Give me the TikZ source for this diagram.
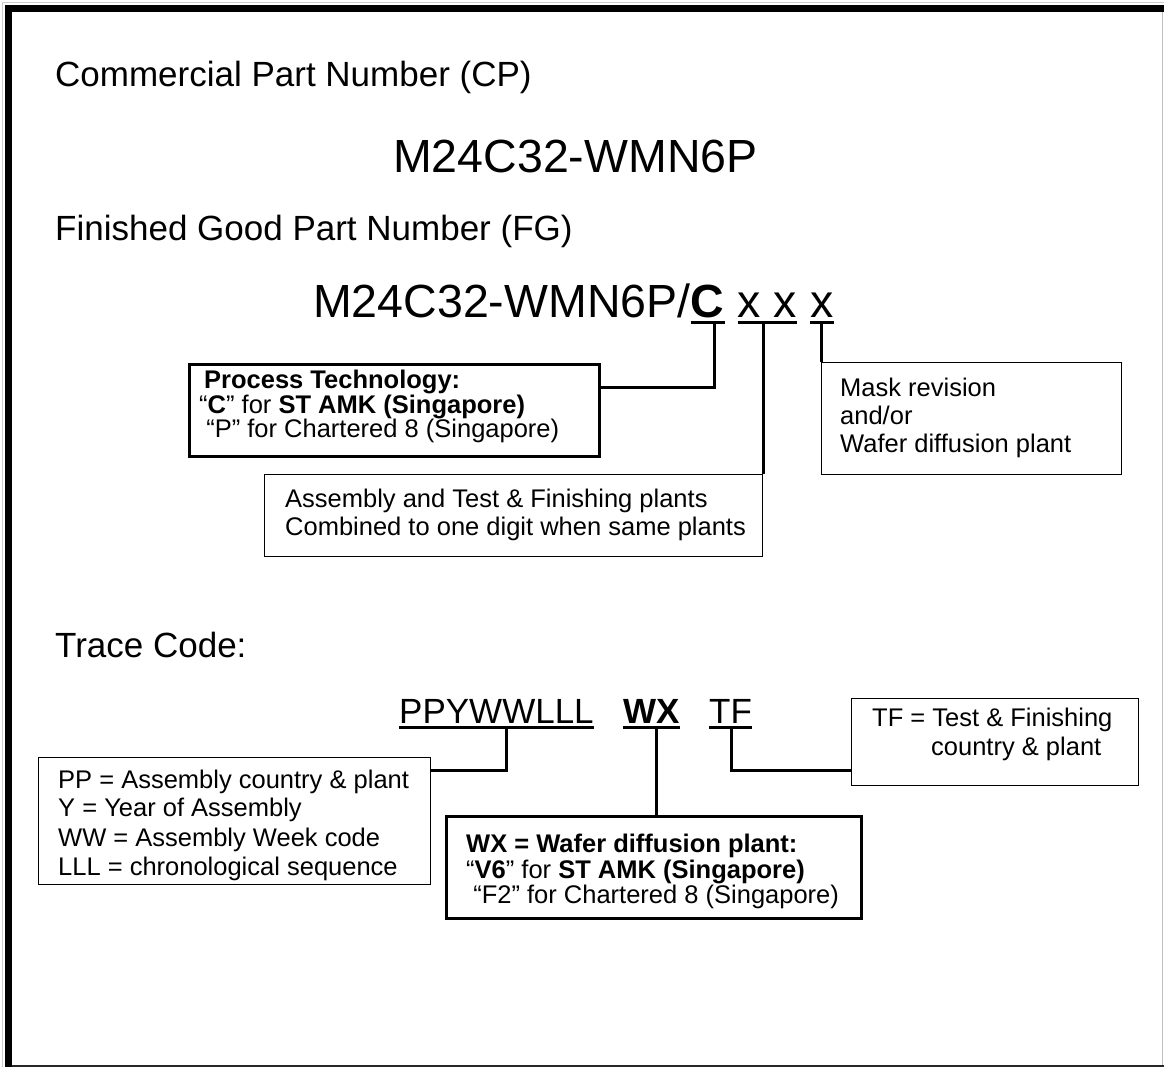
\documentclass[tikz,border=0pt]{standalone}
\usepackage{fontspec}
\setmainfont{Liberation Sans}
\usetikzlibrary{calc}
\newcommand{\fhead}{\fontsize{35}{42}\selectfont}
\newcommand{\fbigpn}{\fontsize{46.5}{55}\selectfont}
\newcommand{\fbody}{\fontsize{25.5}{28}\selectfont}
\begin{document}
\begin{tikzpicture}[x=1pt,y=-1pt,
  txt/.style={inner sep=0pt, anchor=base west, font=\fbody},
  thinbox/.style={draw, line width=1.4pt, anchor=north west, inner sep=0pt},
  thickbox/.style={draw, line width=3pt, anchor=north west, inner sep=0pt},
  conn/.style={line width=3pt},
  uline/.style={line width=3pt},
]
\useasboundingbox (0,0) rectangle (1164,1067);
% frame
\fill[white] (0,0) rectangle (1164,1067);
\draw[black!20, line width=1pt] (2.5,1067) -- (2.5,2.5) -- (1164,2.5);
\fill[black] (5,5) rectangle (1164,12);
\fill[black] (5,5) rectangle (12,1067);
\draw[black!25, line width=1.5pt] (1162.5,12) -- (1162.5,1067);
\draw[black!85, line width=1.5pt] (12,1065.8) -- (1164,1065.8);

% headings
\node[txt, font=\fhead] (cph) at (55,87) {Commercial Part Number (CP)};
\node[txt, font=\fbigpn] (cp) at (393,173) {M24C32-WMN6P};
\node[txt, font=\fhead] (fgh) at (55,241) {Finished Good Part Number (FG)};

% FG part number
\node[txt, font=\fbigpn] (fgA) at (313,317) {M24C32-WMN6P/};
\node[txt, font=\fbigpn\bfseries] (fgC) at (fgA.base east) {C};
\node[txt, font=\fbigpn] (fgxx) at ($(fgC.base east)+(12.9,0)$) {x x};
\node[txt, font=\fbigpn] (fgx) at ($(fgxx.base east)+(12.9,0)$) {x};
\draw[uline] ($(fgC.base west)+(0,5)$) coordinate (ulCw) -- ($(fgC.base east)+(0,5)$) coordinate (ulCe);
\draw[uline] ($(fgxx.base west)+(0,5)$) coordinate (ulXXw) -- ($(fgxx.base east)+(0,5)$);
\draw[uline] ($(fgx.base west)+(0,5)$) coordinate (ulXw) -- ($(fgx.base east)+(0,5)$);

% boxes of FG section
\node[thickbox, minimum width=410, minimum height=92] (procbox) at (188,363) {};
\node[thinbox, minimum width=498, minimum height=82] (asmbox) at (264,474) {};
\node[thinbox, minimum width=300, minimum height=112] (maskbox) at (821,362) {};

\node[txt, font=\fbody\bfseries] (p1) at (204,388) {Process Technology:};
\node[txt] (p2) at (199,413) {“\textbf{C}” for \textbf{ST AMK (Singapore)}};
\node[txt] (p3) at (199,437) {\ “P” for Chartered 8 (Singapore)};

\node[txt] (a1) at (285,507) {Assembly and Test \& Finishing plants};
\node[txt] (a2) at (285,535) {Combined to one digit when same plants};

\node[txt] (m1) at (840,396) {Mask revision};
\node[txt] (m2) at (840,424) {and/or};
\node[txt] (m3) at (840,452) {Wafer diffusion plant};

% FG connectors
\coordinate (cC) at ($(ulCw)!0.7!(ulCe)$);
\draw[conn] (cC) |- ($(procbox.north east)+(0,24)$);
\draw[conn] (asmbox.north east |- ulXXw) -- (asmbox.north east);
\draw[conn] (maskbox.north west |- ulXw) -- (maskbox.north west);

% Trace code
\node[txt, font=\fhead] (tch) at (55,657) {Trace Code:};
\node[txt, font=\fhead] (pp) at (399,723) {PPYWWLLL};
\node[txt, font=\fhead\bfseries] (wx) at (623,723) {WX};
\node[txt, font=\fhead] (tf) at (709,723) {TF};
\draw[uline] ($(pp.base west)+(0,4)$) -- ($(pp.base east)+(0,4)$);
\draw[uline] ($(wx.base west)+(0,4)$) -- ($(wx.base east)+(0,4)$);
\draw[uline] ($(tf.base west)+(0,4)$) -- ($(tf.base east)+(0,4)$);
\coordinate (ppul) at (506,727);
\coordinate (wxul) at (656,727);
\coordinate (tful) at (731,727);

\node[thinbox, minimum width=392, minimum height=127] (ppbox) at (38,757) {};
\node[thickbox, minimum width=415, minimum height=102] (wxbox) at (445,815) {};
\node[thinbox, minimum width=287, minimum height=87] (tfbox) at (851,698) {};

\draw[conn] (ppul) |- ($(ppbox.north east)+(0,13)$);
\draw[conn] (wxul) -- (wxul |- wxbox.north);
\draw[conn] (tful) |- ($(tfbox.north west)+(0,72)$);

\node[txt] (pp1) at (58,788) {PP = Assembly country \& plant};
\node[txt] (pp2) at (58,816) {Y = Year of Assembly};
\node[txt] (pp3) at (58,846) {WW = Assembly Week code};
\node[txt] (pp4) at (58,875) {LLL = chronological sequence};

\node[txt, font=\fbody\bfseries] (w1) at (466,852) {WX = Wafer diffusion plant:};
\node[txt] (w2) at (466,878) {“\textbf{V6}” for \textbf{ST AMK (Singapore)}};
\node[txt] (w3) at (466,903) {\ “F2” for Chartered 8 (Singapore)};

\node[txt] (t1) at (872,726) {TF = Test \& Finishing};
\node[txt] (t2) at (931,755) {country \& plant};
\end{tikzpicture}
\end{document}
